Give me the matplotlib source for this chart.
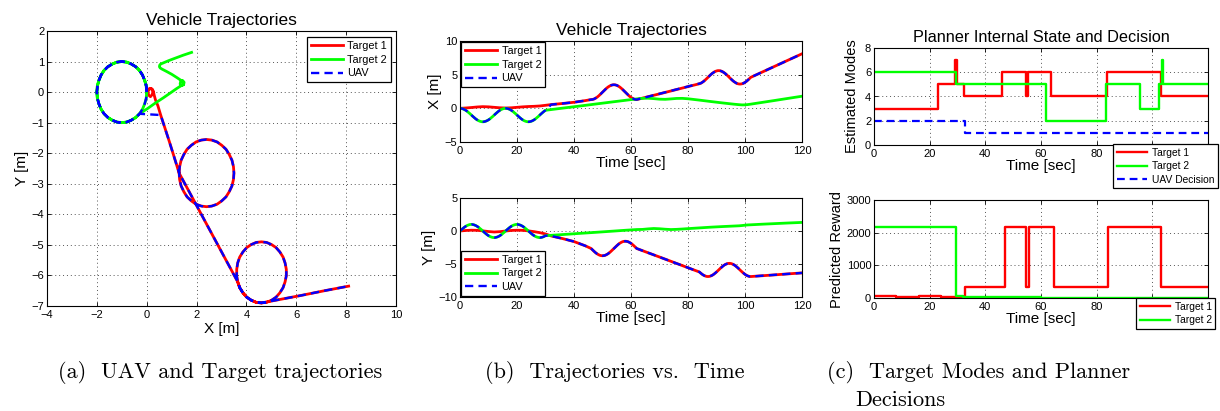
import numpy as np
import matplotlib
matplotlib.use("Agg")
import matplotlib.pyplot as plt

plt.rcParams['font.family'] = ['Liberation Sans', 'DejaVu Sans']

# ---- data ----
# target 1 trajectory (time, x, y)
t1_time = ([0, 2, 4, 6, 8, 10, 12, 14, 16, 18, 20, 22, 24, 26, 28, 30, 32, 36, 40, 44]
           + list(np.arange(46, 62.5, 0.5))
           + [66, 70, 74, 78, 82]
           + list(np.arange(84, 102.5, 0.5))
           + [106, 110, 115, 120])
t1_x = [0, 0.05, 0.12, 0.2, 0.25, 0.22, 0.15, 0.08, 0.05, 0.08, 0.15, 0.22, 0.27, 0.3, 0.35, 0.45, 0.56, 0.72, 0.9, 1.15,
        1.30, 1.32, 1.38, 1.49, 1.62, 1.79, 1.98, 2.19, 2.40, 2.61, 2.82, 3.01, 3.18, 3.31, 3.42, 3.48, 3.50,
        3.48, 3.42, 3.31, 3.18, 3.01, 2.82, 2.61, 2.40, 2.19, 1.98, 1.79, 1.62, 1.49, 1.38, 1.32, 1.30,
        1.73, 2.15, 2.58, 3.01, 3.44,
        3.65, 3.73, 3.86, 4.01, 4.19, 4.39, 4.60, 4.81, 5.01, 5.19, 5.34, 5.47, 5.55, 5.60, 5.60, 5.55, 5.47, 5.34, 5.19,
        5.01, 4.81, 4.60, 4.39, 4.19, 4.01, 3.86, 3.73, 3.65, 3.61, 3.61, 3.65, 3.73, 3.86, 4.01, 4.19, 4.39, 4.60,
        5.38, 6.16, 7.13, 8.10]
t1_y = [0, 0.08, 0.12, 0.1, 0.02, -0.08, -0.15, -0.1, 0.0, 0.08, 0.12, 0.1, 0.02, -0.1, -0.25, -0.45, -0.75, -1.15, -1.6, -2.25,
        -2.65, -2.86, -3.07, -3.26, -3.43, -3.56, -3.67, -3.73, -3.75, -3.73, -3.67, -3.56, -3.43, -3.26, -3.07, -2.86, -2.65,
        -2.44, -2.23, -2.04, -1.87, -1.74, -1.63, -1.57, -1.55, -1.57, -1.63, -1.74, -1.87, -2.04, -2.23, -2.44, -2.65,
        -3.30, -3.94, -4.59, -5.24, -5.89,
        -6.21, -6.40, -6.57, -6.71, -6.81, -6.88, -6.90, -6.88, -6.81, -6.71, -6.57, -6.40, -6.21, -6.01, -5.80, -5.59, -5.40,
        -5.23, -5.09, -4.99, -4.92, -4.90, -4.92, -4.99, -5.09, -5.23, -5.40, -5.59, -5.80, -6.01, -6.21, -6.40, -6.57, -6.71,
        -6.81, -6.88, -6.90,
        -6.78, -6.66, -6.50, -6.35]

# target 2 trajectory
t2_time = list(np.arange(0, 30.5, 0.5)) + [36, 42, 48, 54, 58, 62, 64, 66, 68, 70, 72, 74, 76, 78, 80,
                                           84, 88, 92, 96, 98, 99, 100, 101, 102, 106, 110, 115, 120]
t2_x = [0, -0.02, -0.08, -0.17, -0.29, -0.44, -0.62, -0.80, -1, -1.20, -1.38, -1.56, -1.71, -1.83, -1.92, -1.98, -2,
        -1.98, -1.92, -1.83, -1.71, -1.56, -1.38, -1.20, -1, -0.80, -0.62, -0.44, -0.29, -0.17, -0.08, -0.02, 0,
        -0.02, -0.08, -0.17, -0.29, -0.44, -0.62, -0.80, -1, -1.20, -1.38, -1.56, -1.71, -1.83, -1.92, -1.98, -2,
        -1.98, -1.92, -1.83, -1.71, -1.56, -1.38, -1.20, -1, -0.80, -0.62, -0.44, -0.29,
        0.03, 0.34, 0.66, 0.98, 1.19, 1.40, 1.48, 1.50, 1.44, 1.36, 1.34, 1.40, 1.47, 1.48, 1.42,
        1.22, 1.01, 0.81, 0.62, 0.54, 0.51, 0.52, 0.56, 0.62, 0.88, 1.14, 1.47, 1.80]
t2_y = [0, 0.20, 0.38, 0.56, 0.71, 0.83, 0.92, 0.98, 1, 0.98, 0.92, 0.83, 0.71, 0.56, 0.38, 0.20, 0,
        -0.20, -0.38, -0.56, -0.71, -0.83, -0.92, -0.98, -1, -0.98, -0.92, -0.83, -0.71, -0.56, -0.38, -0.20, 0,
        0.20, 0.38, 0.56, 0.71, 0.83, 0.92, 0.98, 1, 0.98, 0.92, 0.83, 0.71, 0.56, 0.38, 0.20, 0,
        -0.20, -0.38, -0.56, -0.71, -0.83, -0.92, -0.98, -1, -0.98, -0.92, -0.83, -0.71,
        -0.54, -0.36, -0.19, -0.01, 0.11, 0.22, 0.24, 0.32, 0.38, 0.34, 0.27, 0.22, 0.25, 0.30, 0.36,
        0.47, 0.58, 0.67, 0.75, 0.79, 0.83, 0.88, 0.92, 0.94, 1.03, 1.11, 1.21, 1.30]

# UAV follows target 2 until t=30, then target 1
uav_switch_a = 30
uav_switch_b = 32

# planner estimated modes (step changes)
mode1_time = [0, 23, 29, 29.8, 32.2, 46.1, 54.7, 55.5, 63.5, 83.8, 103, 120]
mode1 = [3, 5, 7, 5, 4, 6, 4, 6, 4, 6, 4, 4]
mode2_time = [0, 29.5, 61.7, 83.4, 95.7, 102.3, 103.4, 104.0, 120]
mode2 = [6, 5, 2, 5, 3, 5, 7, 5, 5]
decision_time = [0, 32.6, 120]
decision = [2, 1, 1]

# predicted reward
rew1_time = [0, 4, 8, 12, 16, 20, 24, 28, 32.6, 47.2, 54.7, 55.6, 64.5, 84.2, 103, 120]
rew1 = [70, 50, 30, 40, 70, 50, 40, 40, 330, 2170, 330, 2170, 330, 2170, 330, 330]
rew2_time = [0, 29.5, 32, 40, 60, 120]
rew2 = [2170, 60, 40, 20, 10, 10]

time_ticks = list(range(0, 121, 20))
time_ticklabels_c = ['0', '20', '40', '60', '80', '', '']

RED = '#ff0000'
GREEN = '#00ff00'
BLUE = '#0000ff'
LW = 2.0
ULW = 1.7
DASH = (3.5, 2.2)

W, H = 1220, 411
fig = plt.figure(figsize=(W / 100, H / 100), dpi=100)


def px_axes(left, top, right, bottom):
    return fig.add_axes([left / W, 1 - bottom / H, (right - left) / W, (bottom - top) / H])


def matlab_style(ax):
    ax.grid(True, color='#555555', linestyle=(0, (1, 3)), linewidth=0.7)
    ax.tick_params(direction='in', length=3, width=0.6, top=True, right=True, labelsize=8, pad=2)
    ax.tick_params(axis='x', pad=3)
    for s in ax.spines.values():
        s.set_linewidth(0.8)


def leg(ax, fs=7.8, **kw):
    l = ax.legend(fontsize=fs, handlelength=3.0, handletextpad=0.4, labelspacing=0.35,
                  borderpad=0.35, borderaxespad=0, fancybox=False, framealpha=1,
                  edgecolor='black', bbox_transform=fig.transFigure, **kw)
    l.get_frame().set_linewidth(0.9)
    return l


t1_time_a = np.array(t1_time)
t2_time_a = np.array(t2_time)
m2 = t2_time_a <= uav_switch_a
m1 = t1_time_a >= uav_switch_b
uav_time = np.concatenate([t2_time_a[m2], t1_time_a[m1]])
uav_x = np.concatenate([np.array(t2_x)[m2], np.array(t1_x)[m1]])
uav_y = np.concatenate([np.array(t2_y)[m2], np.array(t1_y)[m1]])

# (a) x-y trajectories
ax = px_axes(47, 31, 396, 306)
ax.plot(t1_x, t1_y, color=RED, lw=LW, label='Target 1')
ax.plot(t2_x, t2_y, color=GREEN, lw=LW, label='Target 2')
ax.plot(uav_x, uav_y, color=BLUE, lw=ULW, dashes=DASH, label='UAV')
ax.set_xlim(-4, 10)
ax.set_ylim(-7, 2)
ax.set_xticks(range(-4, 11, 2))
ax.set_yticks(range(-7, 3))
matlab_style(ax)
ax.set_title('Vehicle Trajectories', fontsize=12.5, pad=4)
ax.set_xlabel('X [m]', fontsize=11, labelpad=1)
ax.set_ylabel('Y [m]', fontsize=11, labelpad=2)
leg(ax, loc='upper right', bbox_to_anchor=(391 / W, 1 - 37 / H))

# (b) x and y vs time
axx = px_axes(460, 41, 802, 142)
axx.plot(t1_time, t1_x, color=RED, lw=LW, label='Target 1')
axx.plot(t2_time, t2_x, color=GREEN, lw=LW, label='Target 2')
axx.plot(uav_time, uav_x, color=BLUE, lw=ULW, dashes=DASH, label='UAV')
axx.set_xlim(0, 120)
axx.set_ylim(-5, 10)
axx.set_xticks(time_ticks)
axx.set_yticks([-5, 0, 5, 10])
matlab_style(axx)
axx.set_title('Vehicle Trajectories', fontsize=12.5, pad=4)
axx.set_xlabel('Time [sec]', fontsize=11, labelpad=0)
axx.set_ylabel('X [m]', fontsize=11, labelpad=2)
leg(axx, loc='upper left', bbox_to_anchor=(461 / W, 1 - 42 / H))

axy = px_axes(460, 198, 802, 297)
axy.plot(t1_time, t1_y, color=RED, lw=LW, label='Target 1')
axy.plot(t2_time, t2_y, color=GREEN, lw=LW, label='Target 2')
axy.plot(uav_time, uav_y, color=BLUE, lw=ULW, dashes=DASH, label='UAV')
axy.set_xlim(0, 120)
axy.set_ylim(-10, 5)
axy.set_xticks(time_ticks)
axy.set_yticks([-10, -5, 0, 5])
matlab_style(axy)
axy.set_xlabel('Time [sec]', fontsize=11, labelpad=0)
axy.set_ylabel('Y [m]', fontsize=11, labelpad=2)
leg(axy, loc='lower left', bbox_to_anchor=(461 / W, 1 - 296 / H))

# (c) planner state
axm = px_axes(874, 48, 1208, 145)
axm.plot(mode1_time, mode1, color=RED, lw=1.7, drawstyle='steps-post', label='Target 1')
axm.plot(mode2_time, mode2, color=GREEN, lw=1.7, drawstyle='steps-post', label='Target 2')
axm.plot(decision_time, decision, color=BLUE, lw=1.6, dashes=DASH, drawstyle='steps-post',
         label='UAV Decision')
axm.set_xlim(0, 120)
axm.set_ylim(0, 8)
axm.set_xticks(time_ticks)
axm.set_xticklabels(time_ticklabels_c)
axm.set_yticks(range(0, 9, 2))
matlab_style(axm)
axm.set_title('Planner Internal State and Decision', fontsize=11.7, pad=4)
axm.set_xlabel('Time [sec]', fontsize=11, labelpad=0)
axm.set_ylabel('Estimated Modes', fontsize=10.5, labelpad=4)
leg(axm, fs=7.4, loc='upper left', bbox_to_anchor=(1113 / W, 1 - 144 / H))

axr = px_axes(874, 200, 1208, 298)
axr.plot(rew1_time, rew1, color=RED, lw=1.7, drawstyle='steps-post', label='Target 1')
axr.plot(rew2_time, rew2, color=GREEN, lw=1.7, drawstyle='steps-post', label='Target 2')
axr.set_xlim(0, 120)
axr.set_ylim(0, 3000)
axr.set_xticks(time_ticks)
axr.set_xticklabels(time_ticklabels_c)
axr.set_yticks(range(0, 3001, 1000))
matlab_style(axr)
axr.set_xlabel('Time [sec]', fontsize=11, labelpad=0)
axr.set_ylabel('Predicted Reward', fontsize=10.5, labelpad=2)
leg(axr, fs=7.4, loc='upper left', bbox_to_anchor=(1136 / W, 1 - 298 / H))

# sub-captions
cap = dict(fontfamily='cmr10', fontsize=16, va='center')
fig.text(220 / W, 1 - 372 / H, '(a)  UAV and Target trajectories', ha='center', **cap)
fig.text(615 / W, 1 - 372 / H, '(b)  Trajectories vs.  Time', ha='center', **cap)
fig.text(827 / W, 1 - 372 / H, '(c)  Target Modes and Planner', ha='left', **cap)
fig.text(855 / W, 1 - 400 / H, 'Decisions', ha='left', **cap)

fig.savefig('out.png', dpi=100)
